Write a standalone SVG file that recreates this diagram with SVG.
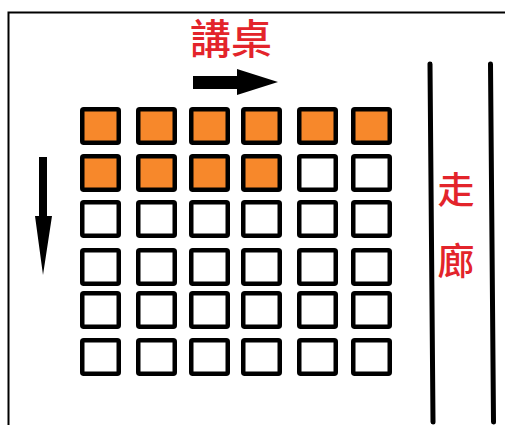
<svg xmlns="http://www.w3.org/2000/svg" width="505" height="425" viewBox="0 0 505 425">
<style>
.seat{stroke:#000;stroke-width:4.5;rx:1.5}
.on{fill:#f7882b}
.off{fill:#fff}
.lbl{font-family:"Noto Sans CJK TC","Noto Sans CJK SC",sans-serif;font-weight:500;fill:#e3242b}
.line{stroke:#000;fill:none}
</style>
<rect width="505" height="425" fill="#fff"/>
<g id="frame">
<path class="line" d="M8.5 425 V12.5 H505" stroke-width="2"/>
</g>
<g id="podium">
<text class="lbl" x="231" y="54" font-size="41" text-anchor="middle">講桌</text>
</g>
<g id="corridor">
<path class="line" d="M430 64 L433 422" stroke-width="5" stroke-linecap="round"/>
<path class="line" d="M490.5 64 L493.5 422" stroke-width="5" stroke-linecap="round"/>
<text class="lbl" x="456" y="204" font-size="37" text-anchor="middle">走</text>
<text class="lbl" x="456" y="275" font-size="37" text-anchor="middle">廊</text>
</g>
<g id="connectors">
<polygon points="193,76 237,76 237,69 278,82 237,95 237,89 193,89" fill="#000"/>
<polygon points="39,157 47,157 47,216 52,216 43,275 35,216 39,216" fill="#000"/>
</g>
<g id="seats">
<g id="row1">
<rect class="seat on" x="82.25" y="109.25" width="36.5" height="33.5"/>
<rect class="seat on" x="138.25" y="109.25" width="36.5" height="33.5"/>
<rect class="seat on" x="191.25" y="109.25" width="36.5" height="33.5"/>
<rect class="seat on" x="243.25" y="109.25" width="36.5" height="33.5"/>
<rect class="seat on" x="299.25" y="109.25" width="36.5" height="33.5"/>
<rect class="seat on" x="353.25" y="109.25" width="36.5" height="33.5"/>
</g>
<g id="row2">
<rect class="seat on" x="82.25" y="156.25" width="36.5" height="33.5"/>
<rect class="seat on" x="138.25" y="156.25" width="36.5" height="33.5"/>
<rect class="seat on" x="191.25" y="156.25" width="36.5" height="33.5"/>
<rect class="seat on" x="243.25" y="156.25" width="36.5" height="33.5"/>
<rect class="seat off" x="299.25" y="156.25" width="36.5" height="33.5"/>
<rect class="seat off" x="353.25" y="156.25" width="36.5" height="33.5"/>
</g>
<g id="row3">
<rect class="seat off" x="82.25" y="202.25" width="36.5" height="33.5"/>
<rect class="seat off" x="138.25" y="202.25" width="36.5" height="33.5"/>
<rect class="seat off" x="191.25" y="202.25" width="36.5" height="33.5"/>
<rect class="seat off" x="243.25" y="202.25" width="36.5" height="33.5"/>
<rect class="seat off" x="299.25" y="202.25" width="36.5" height="33.5"/>
<rect class="seat off" x="353.25" y="202.25" width="36.5" height="33.5"/>
</g>
<g id="row4">
<rect class="seat off" x="82.25" y="250.25" width="36.5" height="33.5"/>
<rect class="seat off" x="138.25" y="250.25" width="36.5" height="33.5"/>
<rect class="seat off" x="191.25" y="250.25" width="36.5" height="33.5"/>
<rect class="seat off" x="243.25" y="250.25" width="36.5" height="33.5"/>
<rect class="seat off" x="299.25" y="250.25" width="36.5" height="33.5"/>
<rect class="seat off" x="353.25" y="250.25" width="36.5" height="33.5"/>
</g>
<g id="row5">
<rect class="seat off" x="82.25" y="293.25" width="36.5" height="33.5"/>
<rect class="seat off" x="138.25" y="293.25" width="36.5" height="33.5"/>
<rect class="seat off" x="191.25" y="293.25" width="36.5" height="33.5"/>
<rect class="seat off" x="243.25" y="293.25" width="36.5" height="33.5"/>
<rect class="seat off" x="299.25" y="293.25" width="36.5" height="33.5"/>
<rect class="seat off" x="353.25" y="293.25" width="36.5" height="33.5"/>
</g>
<g id="row6">
<rect class="seat off" x="82.25" y="340.25" width="36.5" height="33.5"/>
<rect class="seat off" x="138.25" y="340.25" width="36.5" height="33.5"/>
<rect class="seat off" x="191.25" y="340.25" width="36.5" height="33.5"/>
<rect class="seat off" x="243.25" y="340.25" width="36.5" height="33.5"/>
<rect class="seat off" x="299.25" y="340.25" width="36.5" height="33.5"/>
<rect class="seat off" x="353.25" y="340.25" width="36.5" height="33.5"/>
</g>
</g>
</svg>
